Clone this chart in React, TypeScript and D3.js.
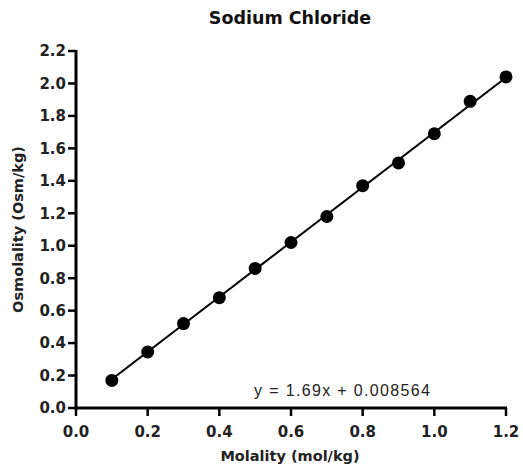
import React from "react";
import * as d3 from "d3";

// Sodium chloride: measured osmolality vs molality
const molality = [0.1, 0.2, 0.3, 0.4, 0.5, 0.6, 0.7, 0.8, 0.9, 1.0, 1.1, 1.2];
const osmolality = [0.17, 0.345, 0.52, 0.68, 0.86, 1.02, 1.18, 1.37, 1.51, 1.69, 1.89, 2.04];
const xTicks = [0, 0.2, 0.4, 0.6, 0.8, 1.0, 1.2];
const yTicks = [0, 0.2, 0.4, 0.6, 0.8, 1.0, 1.2, 1.4, 1.6, 1.8, 2.0, 2.2];
const fitSlope = 1.69;
const fitIntercept = 0.008564;

const W = 523;
const H = 470;
const left = 76;
const right = 506;
const top = 51;
const bottom = 408;

const boldFont = "'DejaVu Sans', Verdana, sans-serif";
const plainFont = "'Liberation Sans', Arial, sans-serif";

export default function App() {
  const x = d3.scaleLinear().domain([0, 1.2]).range([left, right]);
  const y = d3.scaleLinear().domain([0, 2.2]).range([bottom, top]);

  const fitX = [d3.min(molality) as number, d3.max(molality) as number];
  const fitLine = d3
    .line<number>()
    .x((d) => x(d))
    .y((d) => y(fitSlope * d + fitIntercept))(fitX);

  return (
    <svg
      width={W}
      height={H}
      style={{ position: "absolute", left: 0, top: 0, background: "#fff" }}
    >
      <text
        x={290}
        y={24}
        textAnchor="middle"
        fontFamily={boldFont}
        fontWeight="bold"
        fontSize={17.5}
        fill="#111"
      >
        Sodium Chloride
      </text>

      {/* y axis */}
      <line x1={left} x2={left} y1={top - 1} y2={bottom + 1.5} stroke="#000" strokeWidth={3} />
      {yTicks.map((t) => (
        <g key={`y${t}`}>
          <line x1={left - 8} x2={left} y1={y(t)} y2={y(t)} stroke="#000" strokeWidth={2.5} />
          <text
            x={left - 10}
            y={y(t)}
            dy="0.36em"
            textAnchor="end"
            fontFamily={boldFont}
            fontWeight="bold"
            fontSize={15}
            fill="#222"
          >
            {t.toFixed(1)}
          </text>
        </g>
      ))}

      {/* x axis */}
      <line x1={left - 1.5} x2={right + 1} y1={bottom} y2={bottom} stroke="#000" strokeWidth={3} />
      {xTicks.map((t) => (
        <g key={`x${t}`}>
          <line x1={x(t)} x2={x(t)} y1={bottom} y2={bottom + 8} stroke="#000" strokeWidth={2.5} />
          <text
            x={x(t)}
            y={bottom + 29}
            textAnchor="middle"
            fontFamily={boldFont}
            fontWeight="bold"
            fontSize={15}
            fill="#222"
          >
            {t.toFixed(1)}
          </text>
        </g>
      ))}

      <text
        x={290}
        y={461}
        textAnchor="middle"
        fontFamily={boldFont}
        fontWeight="bold"
        fontSize={14.5}
        fill="#222"
      >
        Molality (mol/kg)
      </text>
      <text
        transform={`translate(23, ${(top + bottom) / 2}) rotate(-90)`}
        textAnchor="middle"
        fontFamily={boldFont}
        fontWeight="bold"
        fontSize={14.5}
        fill="#222"
      >
        Osmolality (Osm/kg)
      </text>

      {/* least-squares fit */}
      <path d={fitLine ?? ""} fill="none" stroke="#000" strokeWidth={2} />

      {molality.map((m, i) => (
        <circle key={m} cx={x(m)} cy={y(osmolality[i])} r={6.5} fill="#000" />
      ))}

      <text
        x={254}
        y={396}
        fontFamily={plainFont}
        fontSize={16}
        fill="#222"
        textLength={176}
        lengthAdjust="spacing"
      >
        {`y = ${fitSlope}x + ${fitIntercept}`}
      </text>
    </svg>
  );
}
